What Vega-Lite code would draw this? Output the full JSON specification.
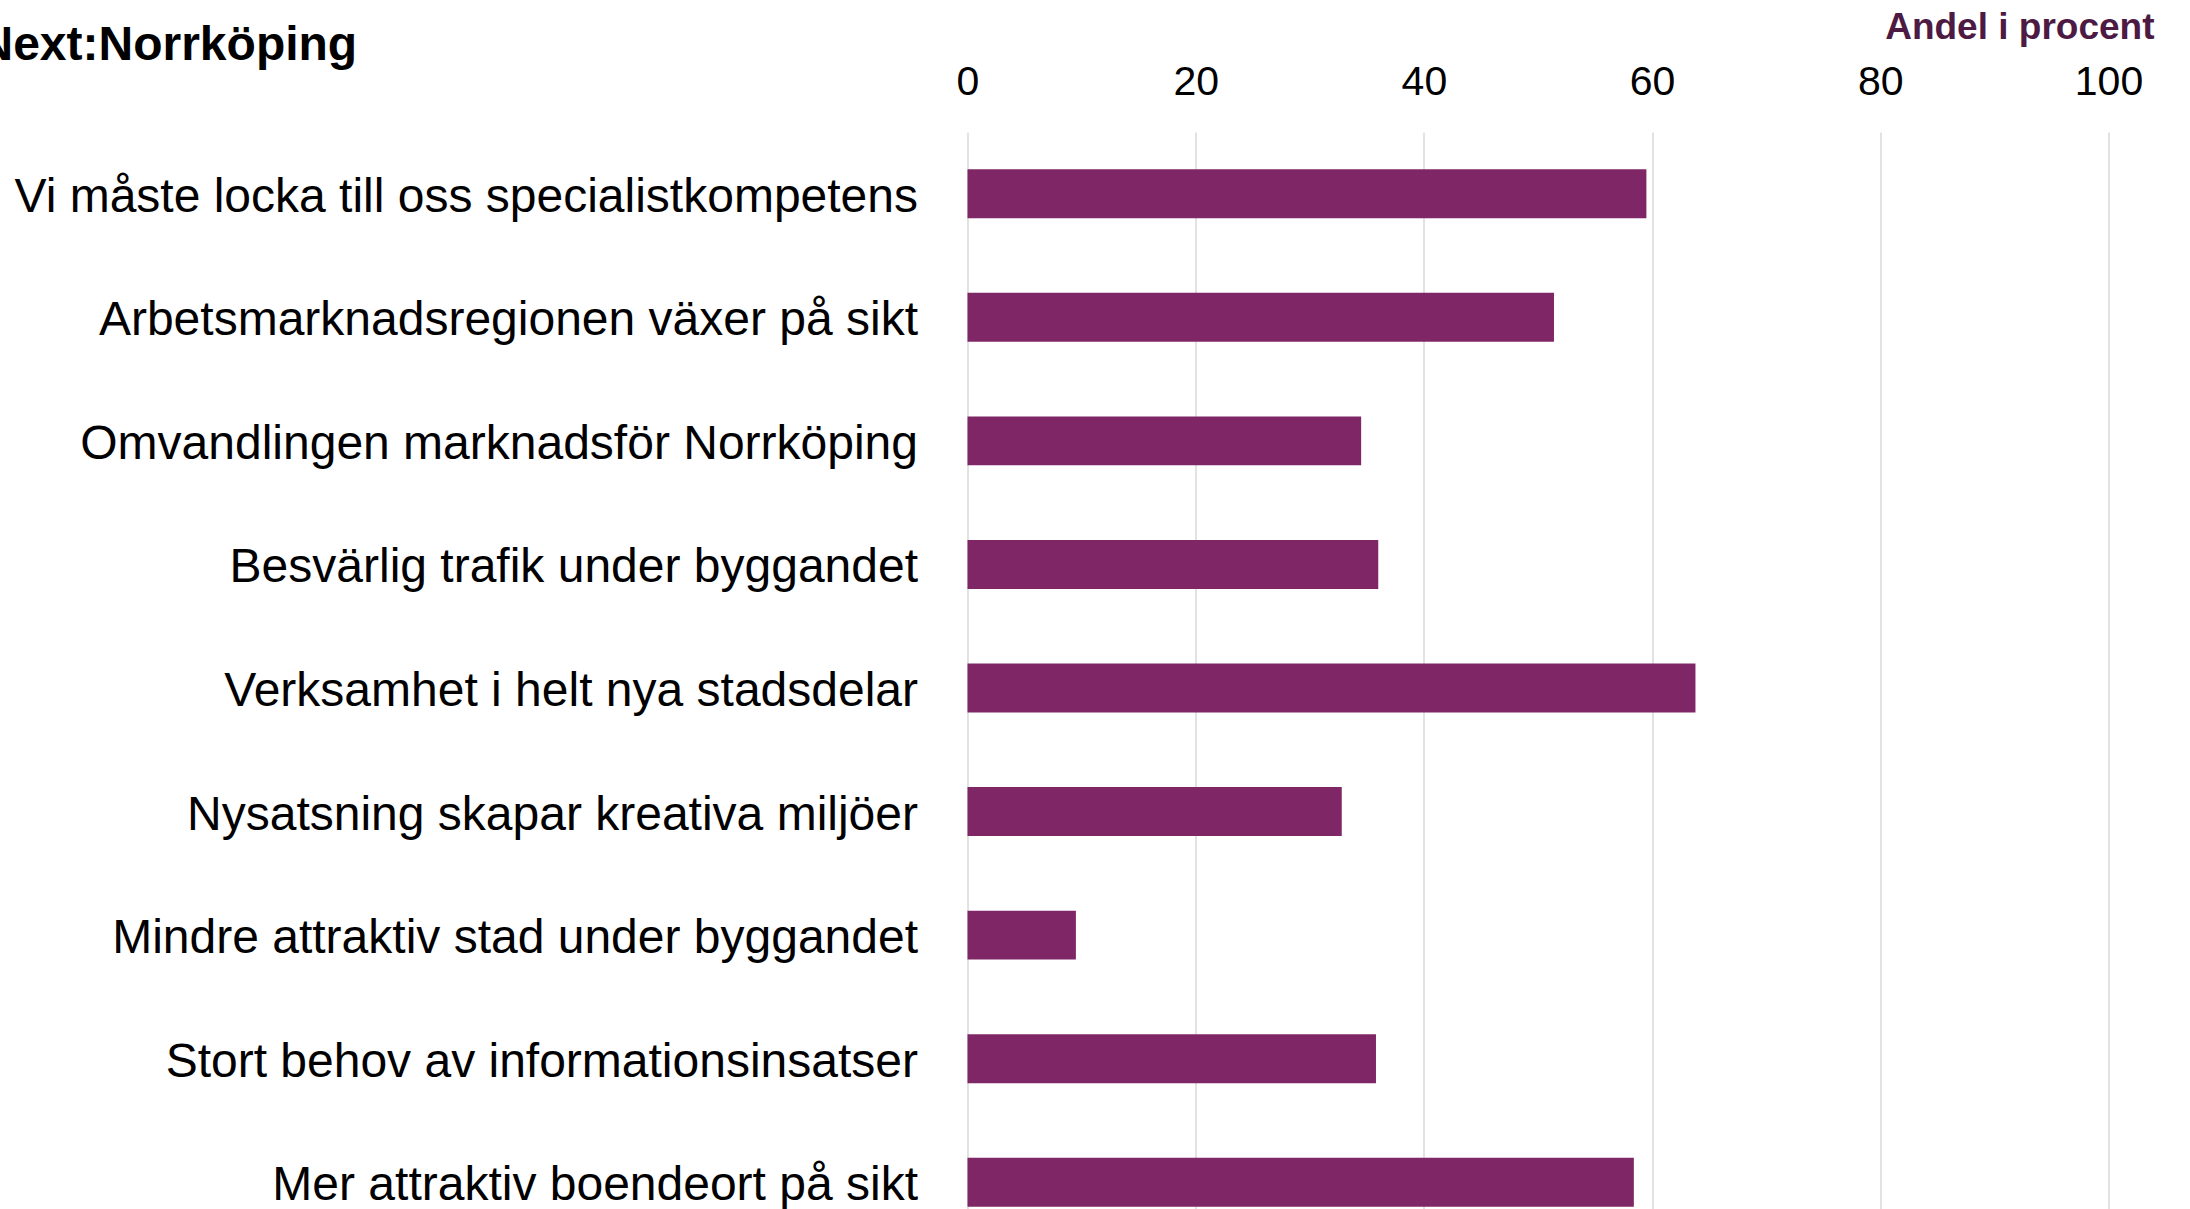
{
  "$schema": "https://vega.github.io/schema/vega-lite/v6.json",
  "autosize": {"type": "none"},
  "padding": {"left": 967.5, "top": 132, "right": 80, "bottom": 20},
  "width": 1141,
  "height": 1112,
  "background": "white",
  "title": {
    "text": "Next:Norrköping",
    "anchor": "start",
    "frame": "group",
    "dx": -989,
    "dy": 100,
    "fontSize": 48,
    "fontWeight": "bold",
    "font": "Liberation Sans",
    "color": "black",
    "baseline": "alphabetic",
    "offset": 0
  },
  "data": {
    "values": [
      {"kategori": "Vi måste locka till oss specialistkompetens", "andel": 59.5},
      {"kategori": "Arbetsmarknadsregionen växer på sikt", "andel": 51.4},
      {"kategori": "Omvandlingen marknadsför Norrköping", "andel": 34.5},
      {"kategori": "Besvärlig trafik under byggandet", "andel": 36.0},
      {"kategori": "Verksamhet i helt nya stadsdelar", "andel": 63.8},
      {"kategori": "Nysatsning skapar kreativa miljöer", "andel": 32.8},
      {"kategori": "Mindre attraktiv stad under byggandet", "andel": 9.5},
      {"kategori": "Stort behov av informationsinsatser", "andel": 35.8},
      {"kategori": "Mer attraktiv boendeort på sikt", "andel": 58.4}
    ]
  },
  "mark": {"type": "bar", "color": "#7f2667"},
  "encoding": {
    "y": {
      "field": "kategori",
      "type": "nominal",
      "sort": null,
      "scale": {"paddingInner": 0.604, "paddingOuter": 0.302},
      "axis": {
        "title": null,
        "domain": false,
        "ticks": false,
        "grid": false,
        "labelFontSize": 48,
        "labelFont": "Liberation Sans",
        "labelColor": "black",
        "labelPadding": 50,
        "labelOffset": 4,
        "labelLimit": 0
      }
    },
    "x": {
      "field": "andel",
      "type": "quantitative",
      "scale": {"domain": [0, 100], "nice": false},
      "axis": {
        "orient": "top",
        "values": [0, 20, 40, 60, 80, 100],
        "domain": false,
        "ticks": false,
        "grid": true,
        "gridColor": "#d9d9d9",
        "gridWidth": 1.5,
        "labelFontSize": 41,
        "labelFont": "Liberation Sans",
        "labelColor": "black",
        "labelFlush": false,
        "labelOverlap": false,
        "labelBaseline": "alphabetic",
        "labelPadding": 38,
        "title": "Andel i procent",
        "titleFont": "Liberation Sans",
        "titleFontSize": 37,
        "titleFontWeight": "bold",
        "titleColor": "#4d1a43",
        "titleAlign": "right",
        "titleBaseline": "alphabetic",
        "titleAnchor": null,
        "titleX": 1186.5,
        "titleY": -94
      }
    }
  },
  "config": {"view": {"stroke": null}}
}
